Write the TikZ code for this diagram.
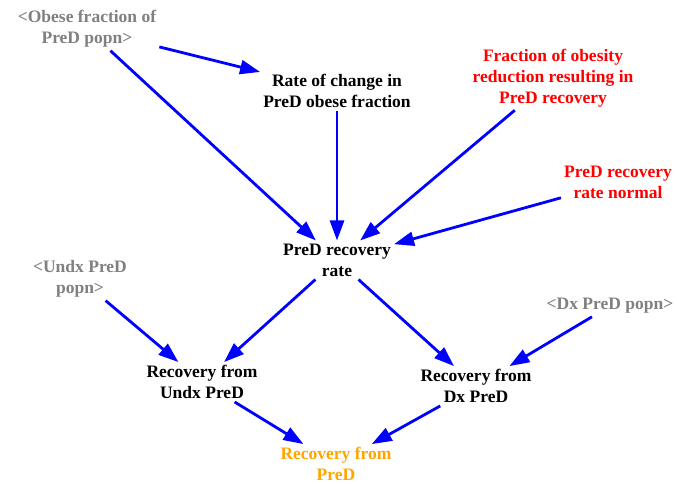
\documentclass[tikz,border=0pt]{standalone}
\usepackage{fontspec}
\setmainfont{Liberation Serif}
\usetikzlibrary{arrows.meta}
\definecolor{shadowgray}{RGB}{128,128,128}
\definecolor{auxred}{RGB}{255,0,0}
\definecolor{flowamber}{RGB}{255,165,0}
\definecolor{linkblue}{RGB}{0,0,255}
\tikzset{
  var/.style={align=center, inner sep=3pt, font=\fontsize{17.5}{21}\selectfont\bfseries, text=black},
  shadow/.style={var, text=shadowgray},
  const/.style={var, text=auxred},
  flow/.style={var, text=flowamber},
  link/.style={draw=linkblue, line width=2.8pt, -{Triangle[length=20pt,width=14pt]}}
}
\begin{document}
\begin{tikzpicture}[x=1pt,y=-1pt]
\useasboundingbox (0,0) rectangle (677,484);
\node[shadow] (obese) at (87,29) {<Obese fraction of\\PreD popn>};
\node[var] (rate) at (337,91) {Rate of change in\\PreD obese fraction};
\node[const] (frac) at (553,78) {Fraction of obesity\\reduction resulting in\\PreD recovery};
\node[const] (normal) at (618,182) {PreD recovery\\rate normal};
\node[var] (recrate) at (337,260) {PreD recovery\\rate};
\node[shadow] (undxpop) at (80,279) {<Undx PreD\\popn>};
\node[shadow] (dxpop) at (610,306) {<Dx PreD popn>};
\node[var] (undx) at (202,382) {Recovery from\\Undx PreD};
\node[var] (dx) at (476,386) {Recovery from\\Dx PreD};
\node[flow] (total) at (336,464) {Recovery from\\PreD};
\draw[link] (obese) -- (rate);
\draw[link] (obese) -- (recrate);
\draw[link] (rate) -- (recrate);
\draw[link] (frac) -- (recrate);
\draw[link] (normal) -- (recrate);
\draw[link] (recrate) -- (undx);
\draw[link] (recrate) -- (dx);
\draw[link] (undxpop) -- (undx);
\draw[link] (dxpop) -- (dx);
\draw[link] (undx) -- (total);
\draw[link] (dx) -- (total);
\end{tikzpicture}
\end{document}
